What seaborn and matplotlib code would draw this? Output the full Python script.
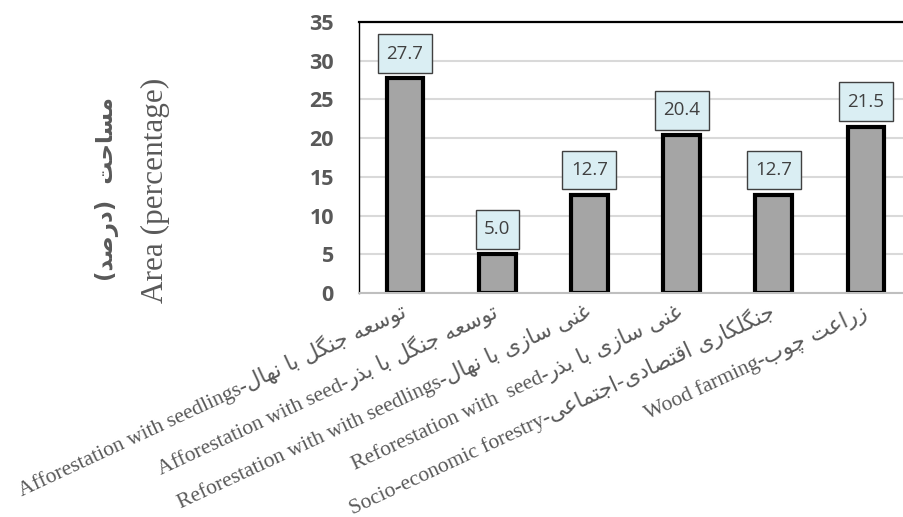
import math
import matplotlib
matplotlib.use("Agg")
import matplotlib.pyplot as plt
from matplotlib.path import Path
import seaborn as sns
import pandas as pd

# ---- data -------------------------------------------------------------
categories_en = [
    "Afforestation with seedlings",
    "Afforestation with seed",
    "Reforestation with with seedlings",
    "Reforestation with  seed",
    "Socio-economic forestry",
    "Wood farming",
]
categories_fa = [
    "توسعه جنگل با نهال",
    "توسعه جنگل با بذر",
    "غنی سازی با نهال",
    "غنی سازی با بذر",
    "جنگلکاری اقتصادی-اجتماعی",
    "زراعت چوب",
]
area_pct = [27.7, 5.0, 12.7, 20.4, 12.7, 21.5]
y_ticks = [0, 5, 10, 15, 20, 25, 30, 35]
ylabel_fa = "مساحت  (درصد)"
ylabel_en = "Area (percentage)"

# ---- minimal Persian shaping (contextual forms + visual order) -------
# letter: (isolated, final, initial, medial); two entries = right-joining only
FORMS = {
    "ا": (0xFE8D, 0xFE8E), "ب": (0xFE8F, 0xFE90, 0xFE91, 0xFE92),
    "ت": (0xFE95, 0xFE96, 0xFE97, 0xFE98), "ج": (0xFE9D, 0xFE9E, 0xFE9F, 0xFEA0),
    "ح": (0xFEA1, 0xFEA2, 0xFEA3, 0xFEA4), "د": (0xFEA9, 0xFEAA),
    "ذ": (0xFEAB, 0xFEAC), "ر": (0xFEAD, 0xFEAE), "ز": (0xFEAF, 0xFEB0),
    "س": (0xFEB1, 0xFEB2, 0xFEB3, 0xFEB4), "ص": (0xFEB9, 0xFEBA, 0xFEBB, 0xFEBC),
    "ع": (0xFEC9, 0xFECA, 0xFECB, 0xFECC), "غ": (0xFECD, 0xFECE, 0xFECF, 0xFED0),
    "ق": (0xFED5, 0xFED6, 0xFED7, 0xFED8), "ل": (0xFEDD, 0xFEDE, 0xFEDF, 0xFEE0),
    "م": (0xFEE1, 0xFEE2, 0xFEE3, 0xFEE4), "ن": (0xFEE5, 0xFEE6, 0xFEE7, 0xFEE8),
    "ه": (0xFEE9, 0xFEEA, 0xFEEB, 0xFEEC), "و": (0xFEED, 0xFEEE),
    "ی": (0xFBFC, 0xFBFD, 0xFBFE, 0xFBFF), "ک": (0xFB8E, 0xFB8F, 0xFB90, 0xFB91),
    "گ": (0xFB92, 0xFB93, 0xFB94, 0xFB95), "چ": (0xFB7A, 0xFB7B, 0xFB7C, 0xFB7D),
}
MIRROR = {"(": ")", ")": "("}


def shape_fa(text):
    out = []
    for i, ch in enumerate(text):
        if ch not in FORMS:
            out.append(MIRROR.get(ch, ch))
            continue
        prev = text[i - 1] if i > 0 else ""
        nxt = text[i + 1] if i + 1 < len(text) else ""
        join_prev = prev in FORMS and len(FORMS[prev]) == 4
        join_next = len(FORMS[ch]) == 4 and nxt in FORMS
        f = FORMS[ch]
        if join_prev and join_next:
            code = f[3]
        elif join_prev:
            code = f[1]
        elif join_next:
            code = f[2]
        else:
            code = f[0]
        out.append(chr(code))
    return "".join(reversed(out))


def value_box(x0, y0, width, height, mutation_size):
    """Rectangle with separate horizontal/vertical padding."""
    px = 0.45 * mutation_size
    py = 0.55 * mutation_size
    x1, y1 = x0 + width, y0 + height
    return Path([(x0 - px, y0 - py), (x1 + px, y0 - py), (x1 + px, y1 + py),
                 (x0 - px, y1 + py), (x0 - px, y0 - py)], closed=True)


df = pd.DataFrame({"category": categories_en, "area": area_pct})

# ---- figure -----------------------------------------------------------
sns.set_theme(style="white")
fig = plt.figure(figsize=(9.04, 5.17), dpi=100)
ax = fig.add_axes([0.397, 0.4333, 0.612, 0.5242])

sns.barplot(data=df, x="category", y="area", color="#A5A5A5", saturation=1,
            edgecolor="black", linewidth=3, width=0.4, ax=ax)

ax.set_xlim(-0.5, len(area_pct) - 0.5)
ax.set_ylim(y_ticks[0], y_ticks[-1])
ax.set_yticks(y_ticks)
ax.set_yticklabels([str(t) for t in y_ticks], fontsize=15.5, fontweight="bold",
                   color="#595959", family="Open Sans")
ax.tick_params(axis="y", length=0, pad=18)
ax.set_xticks(range(len(categories_en)))
ax.set_xticklabels([])
ax.tick_params(axis="x", length=0)
ax.set_xlabel("")
ax.set_ylabel("")

ax.yaxis.grid(True, color="#D9D9D9", linewidth=1.5)
ax.xaxis.grid(False)
ax.set_axisbelow(True)
ax.spines["top"].set_color("black")
ax.spines["top"].set_linewidth(1.6)
ax.spines["left"].set_color("black")
ax.spines["left"].set_linewidth(1.0)
ax.spines["bottom"].set_color("#BFBFBF")
ax.spines["bottom"].set_linewidth(1.5)
ax.spines["right"].set_visible(False)

# bilingual category labels: Persian part ends at the bar, English part before it
renderer = fig.canvas.get_renderer()
angle = 25
ca, sa = math.cos(math.radians(angle)), math.sin(math.radians(angle))
base_dx, base_dy = 2, -17          # points, baseline end below each bar
fa_kw = dict(fontsize=15.5, color="#595959", family=["DejaVu Sans"])
en_kw = dict(fontsize=15.5, color="#595959", family=["Liberation Serif"])
for i, (en, fa) in enumerate(zip(categories_en, categories_fa)):
    fa_vis = shape_fa(fa)
    probe = fig.text(0, 0, fa_vis, **fa_kw)
    w_pt = probe.get_window_extent(renderer).width * 72 / fig.dpi
    probe.remove()
    common = dict(xy=(i, 0), xycoords=("data", "axes fraction"),
                  textcoords="offset points", rotation=angle,
                  rotation_mode="anchor", ha="right", va="baseline",
                  annotation_clip=False)
    ax.annotate(fa_vis, xytext=(base_dx, base_dy), **common, **fa_kw)
    ax.annotate(en + "-", xytext=(base_dx - w_pt * ca, base_dy - w_pt * sa),
                **common, **en_kw)

# value labels in boxes above bars
for i, v in enumerate(area_pct):
    ax.text(i, v + 3.2, f"{v:.1f}", ha="center", va="center", fontsize=13.5,
            color="#404040", family="Open Sans",
            bbox=dict(boxstyle=value_box, fc="#DAEEF3", ec="#404040", lw=1))

# two-line y-axis title
fig.text(0.118, 0.635, shape_fa(ylabel_fa), rotation=90, ha="center", va="center",
         fontsize=16.5, fontweight="bold", color="#595959", family=["DejaVu Sans"])
fig.text(0.1715, 0.6315, ylabel_en, rotation=90, ha="center", va="center",
         fontsize=22.5, color="#595959", family=["Liberation Serif"])

fig.savefig("out.png", dpi=100)
